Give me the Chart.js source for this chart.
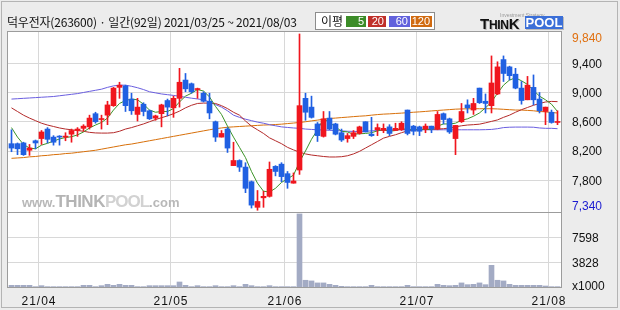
<!DOCTYPE html>
<html><head><meta charset="utf-8">
<script src="https://cdn.jsdelivr.net/npm/chart.js@4/dist/chart.umd.min.js"></script>
<style>
html,body{margin:0;padding:0;background:#ececec;}
#wrap{position:relative;width:620px;height:310px;overflow:hidden;}
#c{position:absolute;left:0;top:0;}
.hdr{position:absolute;left:7px;top:13px;font:12px 'Noto Sans CJK KR';color:#111;white-space:nowrap;line-height:17px;letter-spacing:-0.2px;}
#leg{position:absolute;left:315px;top:12px;width:118px;height:16px;border:1px solid #8c8c8c;background:#fff;}
#leg .t{position:absolute;left:5px;top:0;font:12px 'Noto Sans CJK KR';line-height:16px;color:#111;}
#leg .b{position:absolute;top:3px;height:11px;color:#fff;font:11px 'Liberation Sans';line-height:11px;text-align:right;box-sizing:border-box;padding-right:2px;}
#logo{position:absolute;left:480px;top:12px;height:20px;white-space:nowrap;}
#logo .s{position:absolute;left:20px;top:0;font:5px 'Liberation Sans';color:#999;}
#logo .th{position:absolute;left:0;top:3px;font:bold 15px 'Liberation Sans';color:#111;letter-spacing:-0.3px;text-shadow:1px 1px 0 #bbb;}
#logo .th small{font-size:12px;}
#logo .pl{position:absolute;left:45px;top:4px;width:38px;height:13px;background:#3b6fd8;color:#fff;font:bold 13px 'Liberation Sans';line-height:13px;text-align:center;box-shadow:1px 1px 0 #bbb;}
#wm{position:absolute;left:22px;top:193px;white-space:nowrap;line-height:17px;font-family:'Liberation Sans';font-weight:bold;}
#wm .a{font-size:13px;color:#b8b8b8;}
#wm .b{font-size:17px;color:#b4b4b4;letter-spacing:-0.5px;}
#wm .p{font-size:17px;color:#d2d2d2;letter-spacing:-1px;}
</style></head>
<body>
<div id="wrap">
<canvas id="c" width="620" height="310"></canvas>
<div class="hdr">덕우전자(263600) · 일간(92일) 2021/03/25 ~ 2021/08/03</div>
<div id="leg"><span class="t">이평</span>
<span class="b" style="left:30px;width:20px;background:#3c8c28">5</span>
<span class="b" style="left:52px;width:18px;background:#c0302a">20</span>
<span class="b" style="left:73px;width:21px;background:#6262dc">60</span>
<span class="b" style="left:95px;width:21px;background:#d06a10">120</span>
</div>
<div id="logo"><span class="s">Investment Strategy</span><span class="th">T<small>HIN</small>K</span><span class="pl">POOL</span></div>
<div id="wm"><span class="a">www.</span><span class="b">THINK</span><span class="p">POOL</span><span class="a">.com</span></div>
</div>
<script>
const dates = ['03/25','03/26','03/29','03/30','03/31',
'04/01','04/02','04/05','04/06','04/07','04/08','04/09','04/12','04/13','04/14','04/15','04/16','04/19','04/20','04/21','04/22','04/23','04/26','04/27','04/28','04/29','04/30',
'05/03','05/04','05/06','05/07','05/10','05/11','05/12','05/13','05/14','05/17','05/18','05/20','05/21','05/24','05/25','05/26','05/27','05/28','05/31',
'06/01','06/02','06/03','06/04','06/07','06/08','06/09','06/10','06/11','06/14','06/15','06/16','06/17','06/18','06/21','06/22','06/23','06/24','06/25','06/28','06/29','06/30',
'07/01','07/02','07/05','07/06','07/07','07/08','07/09','07/12','07/13','07/14','07/15','07/16','07/19','07/20','07/21','07/22','07/23','07/26','07/27','07/28','07/29','07/30',
'08/02','08/03'];
const opens  = [8300,8300,8310,8210,8340,8370,8500,8390,8400,8390,8430,8480,8510,8530,8710,8630,8690,8820,9070,9090,
8910,8700,8840,8750,8650,8710,8890,8790,8920,9170,9120,9040,8990,8880,8600,8390,8500,8000,8070,7980,
7780,7430,7560,7580,7990,8020,7890,7760,7940,8920,8800,8570,8400,8650,8570,8450,8370,8400,8440,8600,
8430,8490,8480,8530,8480,8490,8760,8540,8530,8500,8540,8500,8710,8640,8370,8600,8830,8760,9060,8880,
8820,8980,9450,9350,9250,9060,8900,9070,8910,8740,8730,8590];
const highs  = [8490,8310,8320,8290,8350,8480,8520,8410,8410,8450,8500,8520,8560,8690,8730,8690,8880,9070,9140,9100,
8990,8920,8860,8760,8690,8840,8910,8950,9330,9260,9130,9060,9010,8990,8610,8480,8520,8320,8080,8040,
7790,7660,7650,8050,8000,8040,7920,7900,9800,8990,8950,8590,8740,8740,8580,8500,8440,8480,8540,8600,
8660,8570,8570,8560,8580,8600,8760,8550,8540,8570,8540,8740,8720,8650,8550,8850,8900,8920,9060,8980,
9500,9420,9500,9360,9330,9150,9220,9240,9000,8800,8760,8750];
const lows   = [8190,8150,8140,8140,8230,8290,8310,8280,8280,8340,8320,8400,8470,8500,8580,8500,8560,8810,8920,8740,
8700,8610,8680,8630,8620,8530,8680,8660,8800,9010,8990,8920,8870,8640,8330,8390,8180,8000,7920,7630,
7420,7390,7430,7570,7860,7780,7690,7760,7880,8620,8650,8330,8390,8490,8420,8330,8320,8370,8430,8460,
8400,8410,8450,8410,8480,8480,8420,8420,8410,8450,8450,8490,8570,8440,8150,8590,8720,8700,8850,8720,
8720,8970,9150,9170,9050,8840,8900,8830,8720,8560,8580,8560];
const closes = [8240,8230,8150,8240,8310,8460,8360,8320,8390,8400,8480,8500,8540,8650,8600,8640,8830,9060,9100,8820,
8750,8800,8740,8640,8680,8830,8800,8920,9140,9050,9010,9050,8880,8720,8390,8440,8240,8070,7980,7690,
7460,7510,7580,7950,7920,7850,7770,7790,8820,8730,8660,8410,8640,8500,8430,8350,8410,8450,8530,8460,
8410,8520,8510,8440,8510,8580,8440,8470,8470,8540,8500,8700,8630,8460,8550,8740,8790,8850,8860,8850,
9130,9350,9260,9230,9060,8890,9100,8900,8750,8800,8590,8600];
const volumes = [400,400,400,400,200,350,200,200,200,200,200,200,400,400,200,350,550,400,550,400,
400,200,200,350,350,350,350,350,900,400,200,350,200,200,350,200,200,350,200,550,
350,200,200,350,200,200,200,200,11100,1160,1060,760,760,550,400,250,200,200,200,200,
400,200,200,200,200,200,400,200,200,200,200,550,400,350,400,760,500,550,760,500,
3400,1160,1060,550,400,400,400,400,400,300,200,200];
const ma5 = [8520,8390,8290,8240,8230,8280,8305,8335,8365,8385,
8395,8420,8460,8515,8555,8590,8650,8760,8850,8890,
8910,8900,8840,8760,8730,8740,8740,8780,8870,8950,
8990,9040,9020,8940,8810,8700,8540,8390,8250,8110,
7920,7760,7650,7640,7690,7770,7820,7870,8050,8200,
8360,8490,8640,8590,8530,8470,8460,8430,8435,8440,
8450,8475,8490,8470,8480,8505,8495,8490,8490,8500,
8490,8540,8570,8570,8580,8620,8640,8675,8720,8790,
8870,8990,9100,9170,9200,9160,9110,9030,8950,8900,
8840,8740];
const ma20 = [8790,8740,8690,8650,8615,8580,8555,8535,8515,8500,
8490,8480,8470,8455,8447,8445,8445,8450,8470,8500,
8520,8545,8570,8600,8630,8655,8680,8710,8745,8790,
8825,8850,8855,8855,8850,8820,8780,8730,8690,8610,
8540,8490,8440,8380,8340,8300,8250,8215,8185,8160,
8145,8135,8125,8118,8118,8122,8135,8160,8195,8240,
8285,8330,8376,8400,8422,8450,8475,8490,8495,8495,
8497,8500,8505,8515,8530,8545,8555,8560,8567,8585,
8605,8625,8660,8690,8730,8765,8795,8825,8850,8870,
8878,8875];
const ma60 = [8910,8915,8920,8925,8930,8935,8940,8945,8955,8965,
8975,8985,9000,9015,9030,9045,9070,9090,9100,9100,
9085,9065,9040,9010,8995,8980,8970,8960,8948,8935,
8922,8912,8900,8870,8835,8800,8750,8690,8660,8635,
8615,8595,8580,8560,8545,8530,8522,8515,8510,8500,
8495,8490,8487,8483,8480,8475,8470,8468,8467,8470,
8475,8480,8485,8488,8490,8490,8490,8490,8490,8490,
8490,8490,8490,8490,8490,8490,8490,8490,8490,8492,
8495,8505,8520,8525,8527,8527,8527,8525,8515,8510,
8510,8505];
const ma120 = [8100,8105,8110,8120,8125,8135,8140,8150,8155,8165,
8170,8180,8190,8200,8210,8225,8240,8255,8270,8285,
8295,8310,8325,8340,8355,8370,8385,8400,8415,8430,
8445,8460,8475,8490,8505,8515,8525,8530,8535,8540,
8545,8550,8555,8558,8562,8567,8575,8582,8590,8600,
8612,8622,8635,8645,8650,8657,8663,8670,8676,8681,
8690,8698,8704,8708,8713,8718,8724,8730,8735,8741,
8748,8754,8760,8766,8772,8775,8777,8778,8778,8778,
8778,8775,8770,8765,8760,8760,8755,8750,8740,8735,
8725,8720];
const priceTicks = [9400, 9000, 8600, 8200, 7800];
const priceEdgeLabels = ['9,840', '7,340'];
const volTicks = [7598, 3828];
const volUnit = 'x1000';
const monthLabels = ['21/04','21/05','21/06','21/07','21/08'];
const monthStart = [5, 27, 46, 68, 90];

const UP = '#f0161e', DOWN = '#2060e2';
const upAt = i => closes[i] >= opens[i];
const candleColor = c => upAt(c.dataIndex) ? UP : DOWN;
const pts = arr => arr.map((v,i)=>({x:i,y:v}));
const lineDs = (lbl, arr, col, ord) => ({type:'line', label:lbl, data:pts(arr), yAxisID:'yp', borderColor:col, borderWidth:1, pointRadius:0, tension:0, fill:false, order:ord});

const plug = {
  id:'deco',
  beforeDraw(c){
    const {ctx, chartArea:a} = c;
    ctx.save();
    ctx.fillStyle='#ececec'; ctx.fillRect(0,0,c.width,c.height);
    ctx.fillStyle='#ffffff'; ctx.fillRect(a.left,a.top,a.right-a.left,a.bottom-a.top);
    ctx.restore();
  },
  afterDraw(c){
    const {ctx, chartArea:a, scales} = c;
    const yp=scales.yp, yv=scales.yv, x=scales.x;
    ctx.save();
    ctx.lineWidth=1;
    ctx.strokeStyle='#b4b4b4';
    ctx.strokeRect(1.5,1.5,616,306);
    ctx.strokeStyle='#9c9c9c';
    ctx.strokeRect(a.left-0.5,a.top-0.5,a.right-a.left,a.bottom-a.top);
    const dy=Math.floor(yp.bottom)+0.5;
    ctx.beginPath(); ctx.moveTo(a.left,dy); ctx.lineTo(a.right,dy); ctx.stroke();
    const lx = a.right + 10;
    ctx.textAlign='left'; ctx.textBaseline='middle';
    ctx.font="12px 'Liberation Sans'";
    ctx.fillStyle='#111';
    priceTicks.forEach(v=>{ ctx.fillText(v.toLocaleString('en-US'), lx, yp.getPixelForValue(v)+1); });
    ctx.fillStyle='#e07010'; ctx.fillText(priceEdgeLabels[0], lx, yp.top+7);
    ctx.fillStyle='#1a1ad0'; ctx.fillText(priceEdgeLabels[1], lx, yp.bottom-5.5);
    ctx.font="12px 'Liberation Sans Narrow', 'Liberation Sans'";
    ctx.fillStyle='#111';
    volTicks.forEach(v=>{ ctx.fillText(String(v), lx, yv.getPixelForValue(v)+1); });
    ctx.fillText(volUnit, lx, yv.bottom-1.3);
    ctx.textAlign='center';
    ctx.font="12px 'Liberation Sans'";
    try{ ctx.letterSpacing='1px'; }catch(e){}
    monthLabels.forEach((l,k)=>{ ctx.fillText(l, x.getPixelForValue(monthStart[k]-0.5)+0.5, a.bottom+13.5); });
    ctx.restore();
  }
};

new Chart(document.getElementById('c'), {
  type:'bar',
  data:{ datasets:[
    lineDs('MA120', ma120, '#d8700a', 8),
    lineDs('MA60', ma60, '#6a5ee0', 7),
    lineDs('MA20', ma20, '#b42a2a', 6),
    lineDs('MA5', ma5, '#3c9428', 5),
    {type:'bar', label:'vol', data:pts(volumes), yAxisID:'yv', backgroundColor:'#a3abc4', barThickness:5, grouped:false, order:4},
    {type:'bar', label:'wick', data:lows.map((l,i)=>({x:i,y:[l,highs[i]]})), yAxisID:'yp', backgroundColor:candleColor, barThickness:1, grouped:false, order:2},
    {type:'bar', label:'body', data:opens.map((o,i)=>({x:i,y:[o,closes[i]]})), yAxisID:'yp', backgroundColor:candleColor, barThickness:5, minBarLength:1, grouped:false, order:1}
  ]},
  options:{
    responsive:false, animation:false, devicePixelRatio:1,
    layout:{padding:{left:8, top:32, right:58, bottom:22}},
    plugins:{legend:{display:false}, tooltip:{enabled:false}},
    scales:{
      x:{type:'linear', min:-0.5833, max:91.75, offset:false,
         afterBuildTicks:s=>{ s.ticks = monthStart.map(i=>({value:i-0.5})); },
         ticks:{display:false}, grid:{color:'#d8d8d8', drawTicks:false, offset:false}, border:{display:false}},
      yp:{type:'linear', position:'right', stack:'v', stackWeight:180, min:7366, max:9827,
         afterBuildTicks:s=>{ s.ticks = priceTicks.map(v=>({value:v})); },
         ticks:{display:false}, grid:{color:'#d8d8d8', drawTicks:false}, border:{display:false}},
      yv:{type:'linear', position:'right', stack:'v', stackWeight:76, min:0, max:11390,
         afterBuildTicks:s=>{ s.ticks = volTicks.map(v=>({value:v})); },
         ticks:{display:false}, grid:{color:'#d8d8d8', drawTicks:false}, border:{display:false}}
    }
  },
  plugins:[plug]
});
</script>
</body></html>
